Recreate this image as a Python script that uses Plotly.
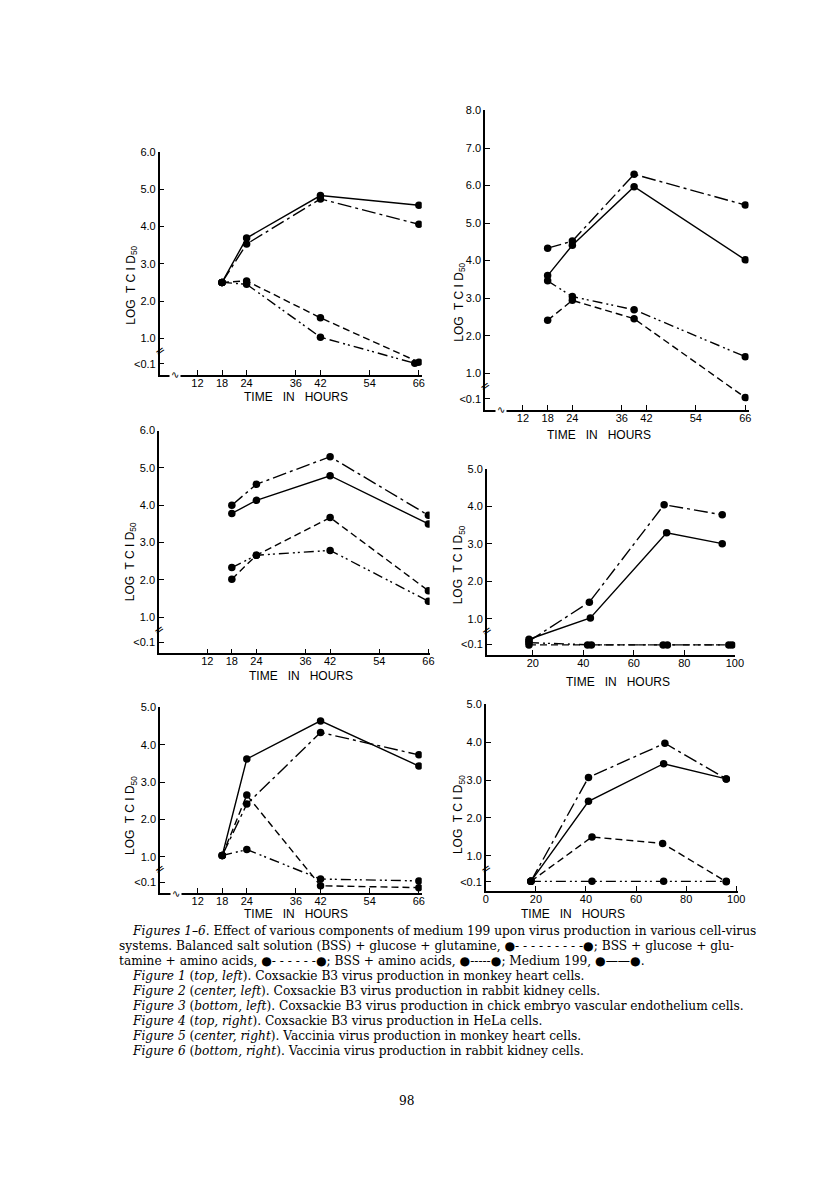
import plotly.graph_objects as go

W, H = 816, 1194

# ---------------- data ----------------
# series keys: m199 (solid), gga (BSS+glc+gln+aa, upper dash-dot), gg (BSS+glc+gln, dashed), aa (BSS+aa, lower dash-dot)
# Figure 1 (top-left)
p1_t = [18, 24, 42, 66]
p1_m199 = [2.5, 3.69, 4.83, 4.57]
p1_gga = [2.5, 3.53, 4.74, 4.06]
p1_gg = [2.5, 2.54, 1.55, 0.36]
p1_aa_t = [18, 24, 42, 65]
p1_aa = [2.5, 2.45, 1.03, 0.33]

# Figure 4 (top-right)
p2_t = [18, 24, 39, 66]
p2_m199 = [3.6, 4.41, 5.97, 4.02]
p2_gga = [4.33, 4.52, 6.3, 5.48]
p2_aa = [3.46, 3.04, 2.69, 1.44]
p2_gg = [2.41, 2.94, 2.45, 0.35]

# Figure 2 (center-left)
p3_t = [18, 24, 42, 66]
p3_gga = [4.0, 4.56, 5.3, 3.73]
p3_m199 = [3.78, 4.13, 4.79, 3.5]
p3_gg = [2.02, 2.66, 3.67, 1.71]
p3_aa = [2.33, 2.66, 2.79, 1.43]

# Figure 5 (center-right)
p4_gga_t = [18.5, 42.4, 72, 95]
p4_gga = [0.4, 1.44, 4.04, 3.77]
p4_m199_t = [18.5, 42.8, 73, 95]
p4_m199 = [0.45, 1.02, 3.29, 3.0]
p4_gg_t = [18.5, 41.7, 71.6, 97.6]
p4_gg = [0.3, 0.3, 0.3, 0.3]
p4_aa_t = [18.5, 43.2, 73.3, 98.9]
p4_aa = [0.36, 0.3, 0.3, 0.3]

# Figure 3 (bottom-left)
p5_t = [18, 24, 42, 66]
p5_m199 = [1.03, 3.62, 4.64, 3.43]
p5_gga = [1.03, 2.41, 4.33, 3.73]
p5_gg = [1.03, 2.65, 0.22, 0.17]
p5_aa = [1.03, 1.19, 0.4, 0.35]

# Figure 6 (bottom-right)
p6_gga_t = [18, 41, 71.5, 96]
p6_gga = [0.33, 3.07, 3.97, 3.03]
p6_m199_t = [18, 41, 71, 96]
p6_m199 = [0.33, 2.44, 3.43, 3.03]
p6_gg_t = [18, 42.4, 70.6, 96]
p6_gg = [0.33, 1.5, 1.33, 0.32]
p6_aa_t = [18, 42.4, 71, 96]
p6_aa = [0.33, 0.33, 0.33, 0.33]

hour_ticks_a = [12, 18, 24, 36, 42, 54, 66]
hour_ticks_b = [20, 40, 60, 80, 100]
hour_ticks_c = [0, 20, 40, 60, 80, 100]
lt_val = 0.32
y_ticks_6 = [lt_val, 1, 2, 3, 4, 5, 6]
y_text_6 = ["<0.1", "1.0", "2.0", "3.0", "4.0", "5.0", "6.0"]
y_ticks_8 = [lt_val, 1, 2, 3, 4, 5, 6, 7, 8]
y_text_8 = ["<0.1", "1.0", "2.0", "3.0", "4.0", "5.0", "6.0", "7.0", "8.0"]
y_ticks_5 = [lt_val, 1, 2, 3, 4, 5]
y_text_5 = ["<0.1", "1.0", "2.0", "3.0", "4.0", "5.0"]

# ---------------- styles ----------------
STY = {
    "m199": "solid",
    "gga": "14px,4px,3px,4px",
    "gg": "7px,4px",
    "aa": "10px,4px,2px,3px,2px,4px",
}
TICKFONT = dict(family="Liberation Sans", size=11, color="black")
TITLEFONT = dict(family="Liberation Sans", size=12, color="black")
CAPFONT = dict(family="DejaVu Serif", size=12.2, color="black")

fig = go.Figure()

def add(panel, t, v, key):
    ax = "" if panel == 1 else str(panel)
    fig.add_trace(go.Scatter(
        x=t, y=v, mode="lines+markers", xaxis="x" + ax, yaxis="y" + ax,
        line=dict(color="black", width=1.4, dash=STY[key]),
        marker=dict(color="black", size=7.5), showlegend=False, hoverinfo="skip"))

add(1, p1_t, p1_m199, "m199"); add(1, p1_t, p1_gga, "gga")
add(1, p1_t, p1_gg, "gg"); add(1, p1_aa_t, p1_aa, "aa")
add(2, p2_t, p2_m199, "m199"); add(2, p2_t, p2_gga, "gga")
add(2, p2_t, p2_aa, "aa"); add(2, p2_t, p2_gg, "gg")
add(3, p3_t, p3_gga, "gga"); add(3, p3_t, p3_m199, "m199")
add(3, p3_t, p3_gg, "gg"); add(3, p3_t, p3_aa, "aa")
add(4, p4_gga_t, p4_gga, "gga"); add(4, p4_m199_t, p4_m199, "m199")
add(4, p4_gg_t, p4_gg, "gg"); add(4, p4_aa_t, p4_aa, "aa")
add(5, p5_t, p5_m199, "m199"); add(5, p5_t, p5_gga, "gga")
add(5, p5_t, p5_gg, "gg"); add(5, p5_t, p5_aa, "aa")
add(6, p6_gga_t, p6_gga, "gga"); add(6, p6_m199_t, p6_m199, "m199")
add(6, p6_gg_t, p6_gg, "gg"); add(6, p6_aa_t, p6_aa, "aa")

# panel geometry in pixels: (left, right, top, bottom), x-range, y-range, ticks
PANELS = {
    1: dict(px=(159, 425, 146.7, 370.7), xr=(2.8, 66.7), yr=(0.02, 6.0), xt=hour_ticks_a, yt=(y_ticks_6, y_text_6),
            xbreak=True, ytitle=(130, 281), xtitle=(297, 393)),
    2: dict(px=(489.3, 756.7, 105, 406), xr=(2.81, 66.8), yr=(0.02, 8.0), xt=hour_ticks_a, yt=(y_ticks_8, y_text_8),
            xbreak=True, ytitle=(463, 298), xtitle=(605, 431)),
    3: dict(px=(158.3, 433, 426.7, 650.7), xr=(0.21, 66.3), yr=(0.03, 6.0), xt=hour_ticks_a, yt=(y_ticks_6, y_text_6),
            xbreak=False, ytitle=(130, 559), xtitle=(302, 673)),
    4: dict(px=(491, 743.3, 465, 652.3), xr=(1.8, 100.2), yr=(0.03, 5.0), xt=hour_ticks_b, yt=(y_ticks_5, y_text_5),
            xbreak=False, ytitle=(463, 562), xtitle=(624, 679)),
    5: dict(px=(159.3, 425, 705, 891.7), xr=(2.8, 66.7), yr=(0.02, 5.0), xt=hour_ticks_a, yt=(y_ticks_5, y_text_5),
            xbreak=True, ytitle=(130, 814), xtitle=(297, 913)),
    6: dict(px=(490, 746, 701.7, 889.3), xr=(0.0, 100.7), yr=(0.08, 5.0), xt=hour_ticks_c, yt=(y_ticks_5, y_text_5),
            xbreak=False, ytitle=(463, 813), xtitle=(579, 913)),
}

layout = dict(width=W, height=H, margin=dict(l=0, r=0, t=0, b=0),
              paper_bgcolor="white", plot_bgcolor="rgba(0,0,0,0)", showlegend=False)
annotations = []
for k, p in PANELS.items():
    l, r, t, b = p["px"]
    ax = "" if k == 1 else str(k)
    layout["xaxis" + ax] = dict(
        domain=[l / W, r / W], range=list(p["xr"]), anchor="y" + ax,
        showgrid=False, zeroline=False, showline=True, linecolor="black", linewidth=1.5,
        ticks="inside", ticklen=5, tickwidth=1.3, tickcolor="black", ticklabelstandoff=-3,
        tickvals=p["xt"], ticktext=[str(v) for v in p["xt"]], tickfont=TICKFONT, fixedrange=True)
    layout["yaxis" + ax] = dict(
        domain=[1 - b / H, 1 - t / H], range=list(p["yr"]), anchor="x" + ax,
        showgrid=False, zeroline=False, showline=True, linecolor="black", linewidth=1.5,
        ticks="inside", ticklen=5, tickwidth=1.3, tickcolor="black",
        tickvals=p["yt"][0], ticktext=p["yt"][1], tickfont=TICKFONT, fixedrange=True)
    # axis titles
    annotations.append(dict(x=p["ytitle"][0] / W, y=1 - p["ytitle"][1] / H, xref="paper", yref="paper",
                            text="LOG  T C I D<sub>50</sub>", textangle=-90, showarrow=False,
                            font=TITLEFONT, xanchor="center", yanchor="middle"))
    annotations.append(dict(x=p["xtitle"][0] / W, y=1 - p["xtitle"][1] / H, xref="paper", yref="paper",
                            text="TIME   IN   HOURS", showarrow=False, font=TITLEFONT,
                            xanchor="center", yanchor="middle"))
    # y-axis break mark
    annotations.append(dict(x=0, y=0.66, xref="x" + ax + " domain", yref="y" + ax, text="=",
                            textangle=-35, showarrow=False, font=dict(family="DejaVu Sans", size=12, color="black"),
                            xanchor="center", yanchor="middle"))
    if p["xbreak"]:
        annotations.append(dict(x=0.06, y=0, xref="x" + ax + " domain", yref="y" + ax + " domain", text="∿",
                                showarrow=False, bgcolor="white",
                                font=dict(family="DejaVu Sans", size=10, color="black"),
                                xanchor="center", yanchor="middle"))

# caption
CAP = [
    (129, 930, "<i>Figures 1–6</i>. Effect of various components of medium 199 upon virus production in various cell-virus"),
    (116, 945, "systems. Balanced salt solution (BSS) + glucose + glutamine, ●- - - - - - - - -●; BSS + glucose + glu-"),
    (116, 960, "tamine + amino acids, ●- - - - - -●; BSS + amino acids, ●-----●; Medium 199, ●——●."),
    (129, 975, "<i>Figure 1</i> (<i>top, left</i>). Coxsackie B3 virus production in monkey heart cells."),
    (129, 990, "<i>Figure 2</i> (<i>center, left</i>). Coxsackie B3 virus production in rabbit kidney cells."),
    (129, 1005, "<i>Figure 3</i> (<i>bottom, left</i>). Coxsackie B3 virus production in chick embryo vascular endothelium cells."),
    (129, 1020, "<i>Figure 4</i> (<i>top, right</i>). Coxsackie B3 virus production in HeLa cells."),
    (129, 1035, "<i>Figure 5</i> (<i>center, right</i>). Vaccinia virus production in monkey heart cells."),
    (129, 1050, "<i>Figure 6</i> (<i>bottom, right</i>). Vaccinia virus production in rabbit kidney cells."),
]
for x, y, txt in CAP:
    annotations.append(dict(x=x / W, y=1 - y / H, xref="paper", yref="paper", text=txt, showarrow=False,
                            xanchor="left", yanchor="middle", font=CAPFONT))
annotations.append(dict(x=410 / W, y=1 - 1101 / H, xref="paper", yref="paper", text="98", showarrow=False,
                        xanchor="center", yanchor="middle", font=CAPFONT))

layout["annotations"] = annotations
fig.update_layout(**layout)
fig.write_html("out.html", config={"displayModeBar": False},
               post_script="document.body.style.margin='0';document.body.style.overflow='hidden';")
